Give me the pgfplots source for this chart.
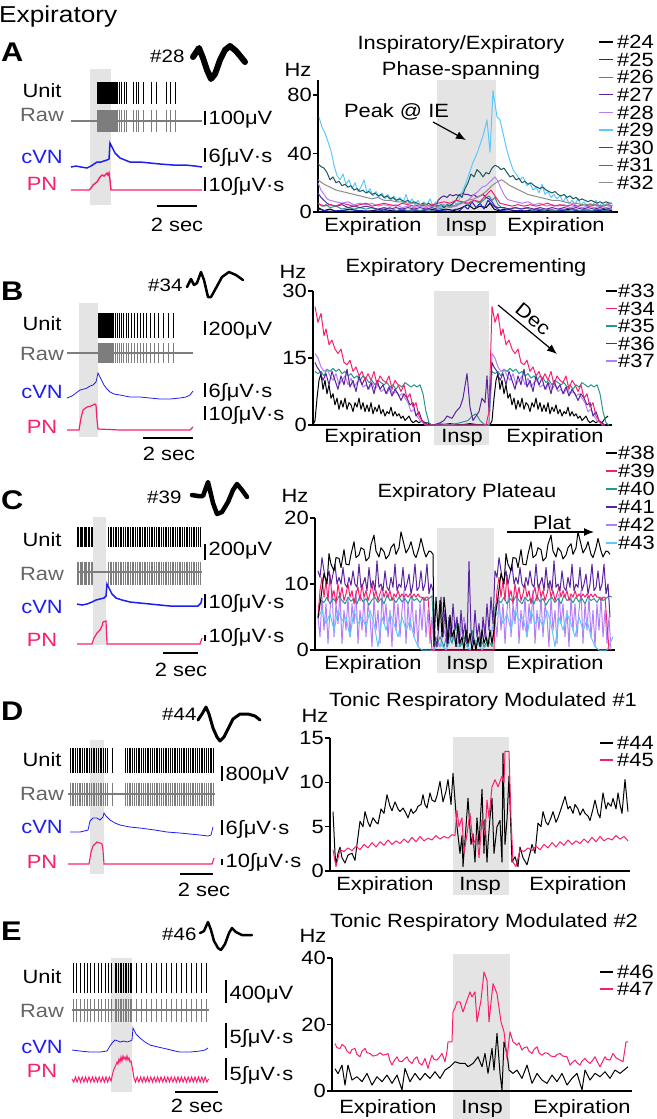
\documentclass[border=0pt]{standalone}
\usepackage{fontspec}
\setmainfont{Liberation Sans}[FakeStretch=1.14]
\usepackage{pgfplots}
\pgfplotsset{compat=1.18}
\usetikzlibrary{arrows.meta}
\definecolor{cpink}{RGB}{250,30,110}
\definecolor{cblue}{RGB}{30,30,240}
\definecolor{craw}{RGB}{125,125,125}
\definecolor{crawl}{RGB}{100,100,100}
\definecolor{cteal}{RGB}{40,150,140}
\definecolor{cdteal}{RGB}{25,90,95}
\definecolor{cpurp}{RGB}{90,35,160}
\definecolor{clav}{RGB}{180,125,250}
\definecolor{clblue}{RGB}{95,200,250}
\definecolor{cdblue}{RGB}{30,30,200}
\definecolor{cgray}{RGB}{140,140,140}
\definecolor{cshade}{RGB}{228,228,228}
\newcommand{\fs}{\fontsize{19.2pt}{22pt}\selectfont}
\newcommand{\fl}{\fontsize{23pt}{26pt}\selectfont}
\newcommand{\fb}{\fontsize{27pt}{30pt}\selectfont\bfseries}
\newcommand{\fn}{\fontsize{18pt}{21pt}\selectfont}
\pgfplotsset{
  spk/.style 2 args={only marks, mark=|, mark size=#1, color=#2, mark options={line width=0.6pt, solid}},
  rplot/.style={scale only axis, width=300pt, anchor=south west,
    axis x line*=bottom, axis y line*=left, axis line style={line width=1.2pt, -},
    xtick=\empty, xmajorticks=false, tick align=outside, major tick length=5pt,
    every tick/.style={black, line width=1.2pt},
    yticklabel style={font=\fs, inner sep=1pt},
    /pgf/number format/assume math mode=true, clip=false,
    every axis plot/.append style={line width=1pt, line join=round}}
}
\begin{document}
\begin{tikzpicture}
\useasboundingbox (0,0) rectangle (656pt,-1119pt);
\begin{scope}[x=1pt,y=-1pt]
\fill[cshade] (437,80) rectangle (496,236);
\fill[cshade] (434,291) rectangle (489,445);
\fill[cshade] (437,528) rectangle (494,673);
\fill[cshade] (453,737) rectangle (509,895);
\fill[cshade] (453,954) rectangle (510,1119);
\end{scope}
% ---------------- left traces (pixel space) ----------------
\begin{axis}[at={(0pt,0pt)}, anchor=north west, scale only axis, width=656pt, height=1119pt,
  xmin=0, xmax=656, ymin=0, ymax=1119, y dir=reverse, hide axis, clip=false]
\fill[cshade] (axis cs:90,69) rectangle (axis cs:111,205);
\fill[cshade] (axis cs:79,303) rectangle (axis cs:98,437);
\fill[cshade] (axis cs:93,517) rectangle (axis cs:106,645);
\fill[cshade] (axis cs:90,740) rectangle (axis cs:104,874);
\fill[cshade] (axis cs:111,958) rectangle (axis cs:132,1092);
% waveforms
\addplot[black, line width=6pt, line cap=round, line join=round] coordinates {(193,57)(199,48)(203,58)(207,70)(211,79)(215,74)(220,60)(225,50)(230,46)(236,51)(241,57)(245,62)};
\addplot[black, line width=2.5pt, line cap=round, line join=round] coordinates {(187,287)(191,279)(194,285)(197,283)(201,272)(204,280)(208,297)(211,297)(216,288)(222,277)(229,272)(236,275)(243,280)};
\addplot[black, line width=4.5pt, line cap=round, line join=round] coordinates {(192,495)(198,496)(203,496)(208,482)(213,503)(217,514)(222,512)(228,502)(233,490)(237,484)(242,490)(247,497)};
\addplot[black, line width=3pt, line cap=round, line join=round] coordinates {(198,720)(202,714)(206,707)(209,714)(213,728)(217,737)(220,741)(224,737)(228,729)(233,719)(240,714)(248,714)(255,716)(260,720)};
\addplot[black, line width=2.5pt, line cap=round, line join=round] coordinates {(200,933)(204,931)(208,922)(211,930)(214,941)(218,948)(221,950)(225,944)(229,933)(232,928)(236,932)(242,935)(252,935)};
% ---- A ----
\addplot[spk={11}{black}] coordinates {(97,93)(98.3,93)(99.3,93)(100.3,93)(101.3,93)(102.2,93)(103,93)(103.8,93)(104.6,93)(105.4,93)(106.2,93)(107,93)(107.8,93)(108.6,93)(109.4,93)(110.2,93)(111,93)(111.8,93)(112.6,93)(113.4,93)(114.2,93)(115,93)(116,93)(117,93)(119,93)(121.7,93)(124.3,93)(126.7,93)(133.3,93)(136,93)(138.3,93)(143.3,93)(151.7,93)(156.7,93)(166.7,93)(170,93)(175,93)};
\addplot[craw, line width=2.8pt] coordinates {(71,121)(202,121)};
\addplot[spk={11}{craw}] coordinates {(97,121)(98.3,121)(99.3,121)(100.3,121)(101.3,121)(102.2,121)(103,121)(103.8,121)(104.6,121)(105.4,121)(106.2,121)(107,121)(107.8,121)(108.6,121)(109.4,121)(110.2,121)(111,121)(111.8,121)(112.6,121)(113.4,121)(114.2,121)(115,121)(116,121)(117,121)(119,121)(121.7,121)(124.3,121)(126.7,121)(133.3,121)(136,121)(138.3,121)(143.3,121)(151.7,121)(156.7,121)(166.7,121)(170,121)(175,121)};
\addplot[cblue, line width=1.5pt] coordinates {(71,167)(76,166)(81,167)(87,168)(91,166)(94,164)(97,162)(101,162)(104,161)(107,160)(109,159)(110,143)(112,147)(115,153)(118,156)(120,158)(125,160)(130,162)(140,162)(150,163)(160,164)(173,165)(185,165)(195,166)(202,167)};
\addplot[cpink, line width=1.4pt] coordinates {(71,190)(89,190)(91,188)(93,185)(97,182)(100,177)(102,175)(104,176)(107,173)(108,175)(109,173)(110,180)(111,190)(130,190)(160,190)(202,190)};
% ---- B ----
\addplot[spk={12.5}{black}] coordinates {(98,325.5)(99,325.5)(100,325.5)(101,325.5)(102,325.5)(103,325.5)(104,325.5)(105,325.5)(106,325.5)(107,325.5)(108,325.5)(109,325.5)(110,325.5)(111,325.5)(112,325.5)(113.5,325.5)(115,325.5)(117,325.5)(119,325.5)(121,325.5)(123.5,325.5)(126,325.5)(128.5,325.5)(131,325.5)(134,325.5)(137,325.5)(140,325.5)(143,325.5)(146.5,325.5)(150,325.5)(154,325.5)(158,325.5)(163,325.5)(168,325.5)(173,325.5)};
\addplot[craw, line width=2.5pt] coordinates {(67,353)(193,353)};
\addplot[spk={10}{craw}] coordinates {(98,353)(99,353)(100,353)(101,353)(102,353)(103,353)(104,353)(105,353)(106,353)(107,353)(108,353)(109,353)(110,353)(111,353)(112,353)(113.5,353)(115,353)(117,353)(119,353)(121,353)(123.5,353)(126,353)(128.5,353)(131,353)(134,353)(137,353)(140,353)(143,353)(146.5,353)(150,353)(154,353)(158,353)(163,353)(168,353)(173,353)};
\addplot[cblue, line width=0.8pt] coordinates {(67,398)(72,396)(76,393)(80,390)(84,389)(87,388)(90,386)(93,385)(96,382)(98,373)(101,379)(104,385)(107,389)(110,392)(114,394)(120,395)(130,397)(140,397)(150,398)(160,399)(170,399)(180,398)(186,397)(190,395)(193,391)};
\addplot[cpink, line width=1.2pt] coordinates {(67,430)(79,430)(81,418)(83,410)(87,407)(91,406)(95,404)(96,405)(97,420)(98,429)(120,430)(150,430)(180,430)(190,430)(193,427)};
% ---- C ----
\addplot[spk={10}{black}] coordinates {(77,537)(78.5,537)(80,537)(81,537)(82.5,537)(84,537)(85,537)(86.5,537)(88,537)(89.5,537)(91,537)(92.5,537)(108,537)(110,537)(111.5,537)(113,537)(115,537)(116.5,537)(118,537)(120,537)(121.5,537)(123,537)(125,537)(127,537)(128.5,537)(130,537)(132,537)(133.5,537)(135,537)(137,537)(139,537)(140.5,537)(142,537)(144,537)(145.5,537)(147,537)(149,537)(151,537)(152.5,537)(154,537)(156,537)(158,537)(159.5,537)(161,537)(163,537)(165,537)(166.5,537)(168,537)(170,537)(172,537)(173.5,537)(175,537)(177,537)(179,537)(180.5,537)(182,537)(184,537)(186,537)(187.5,537)(189,537)(191,537)(193,537)(194.5,537)(196,537)(198,537)(200,537)};
\addplot[craw, line width=2.5pt] coordinates {(77,572)(202,572)};
\addplot[spk={11.5}{craw}] coordinates {(77,573)(78.5,573)(80,573)(81,573)(82.5,573)(84,573)(85,573)(86.5,573)(88,573)(89.5,573)(91,573)(92.5,573)(108,573)(110,573)(111.5,573)(113,573)(115,573)(116.5,573)(118,573)(120,573)(121.5,573)(123,573)(125,573)(127,573)(128.5,573)(130,573)(132,573)(133.5,573)(135,573)(137,573)(139,573)(140.5,573)(142,573)(144,573)(145.5,573)(147,573)(149,573)(151,573)(152.5,573)(154,573)(156,573)(158,573)(159.5,573)(161,573)(163,573)(165,573)(166.5,573)(168,573)(170,573)(172,573)(173.5,573)(175,573)(177,573)(179,573)(180.5,573)(182,573)(184,573)(186,573)(187.5,573)(189,573)(191,573)(193,573)(194.5,573)(196,573)(198,573)(200,573)};
\addplot[cblue, line width=1.5pt] coordinates {(77,604)(82,605)(87,604)(92,602)(96,600)(100,599)(104,598)(106,596)(107,584)(109,588)(112,594)(116,598)(122,600)(130,602)(140,603)(150,604)(160,605)(170,606)(180,606)(190,606)(198,606)(201,603)(202,598)};
\addplot[cpink, line width=1.2pt] coordinates {(77,644)(92,644)(94,638)(97,633)(100,630)(102,626)(103,622)(106,621)(107,644)(120,644)(150,644)(180,644)(200,644)(202,638)};
% ---- D ----
\addplot[spk={12.5}{black}] coordinates {(70,760.5)(72,760.5)(73.5,760.5)(75,760.5)(77,760.5)(79,760.5)(80.5,760.5)(82,760.5)(84,760.5)(86,760.5)(87.5,760.5)(89,760.5)(91,760.5)(93,760.5)(94.5,760.5)(96,760.5)(98,760.5)(100,760.5)(101.5,760.5)(103,760.5)(105,760.5)(107,760.5)(112,760.5)(125,760.5)(127,760.5)(129,760.5)(130.5,760.5)(132,760.5)(134,760.5)(136,760.5)(138,760.5)(139.5,760.5)(141,760.5)(143,760.5)(145,760.5)(147,760.5)(148.5,760.5)(150,760.5)(152,760.5)(154,760.5)(156,760.5)(157.5,760.5)(159,760.5)(161,760.5)(163,760.5)(165,760.5)(166.5,760.5)(168,760.5)(170,760.5)(172,760.5)(174,760.5)(175.5,760.5)(177,760.5)(179,760.5)(181,760.5)(183,760.5)(184.5,760.5)(186,760.5)(188,760.5)(190,760.5)(192,760.5)(193.5,760.5)(195,760.5)(197,760.5)(199,760.5)(201,760.5)(202.5,760.5)(204,760.5)(206,760.5)(208,760.5)(210,760.5)(211.5,760.5)(213,760.5)};
\addplot[craw, line width=2.5pt] coordinates {(68,794)(215,794)};
\addplot[spk={11.5}{craw}] coordinates {(70,794)(72,794)(73.5,794)(75,794)(77,794)(79,794)(80.5,794)(82,794)(84,794)(86,794)(87.5,794)(89,794)(91,794)(93,794)(94.5,794)(96,794)(98,794)(100,794)(101.5,794)(103,794)(105,794)(107,794)(112,794)(125,794)(127,794)(129,794)(130.5,794)(132,794)(134,794)(136,794)(138,794)(139.5,794)(141,794)(143,794)(145,794)(147,794)(148.5,794)(150,794)(152,794)(154,794)(156,794)(157.5,794)(159,794)(161,794)(163,794)(165,794)(166.5,794)(168,794)(170,794)(172,794)(174,794)(175.5,794)(177,794)(179,794)(181,794)(183,794)(184.5,794)(186,794)(188,794)(190,794)(192,794)(193.5,794)(195,794)(197,794)(199,794)(201,794)(202.5,794)(204,794)(206,794)(208,794)(210,794)(211.5,794)(213,794)};
\addplot[cblue, line width=0.8pt] coordinates {(70,832)(80,832)(88,830)(90,821)(93,818)(97,818)(100,820)(103,817)(104,813)(106,816)(110,820)(115,823)(120,825)(130,827)(140,828)(155,830)(167,832)(180,833)(190,834)(200,835)(208,836)(211,835)(213,827)};
\addplot[cpink, line width=1.1pt] coordinates {(68,864)(89,864)(91,852)(93,846)(97,842)(100,843)(102,844)(103,850)(104,864)(130,864)(170,864)(212,864)(214,858)};
% ---- E ----
\addplot[spk={15}{black}] coordinates {(73.3,978)(76.7,978)(80,978)(84,978)(87.3,978)(90.7,978)(94.3,978)(98.3,978)(101.7,978)(105,978)(108.3,978)(111.7,978)(115,978)(116.7,978)(118.3,978)(120,978)(121.7,978)(123.3,978)(125,978)(126.7,978)(128.3,978)(130,978)(131.7,978)(136.7,978)(141.7,978)(146.7,978)(151.7,978)(156.7,978)(161.7,978)(166.7,978)(171.7,978)(176.7,978)(181.7,978)(186.7,978)(191.7,978)(196.7,978)(201.7,978)(206.7,978)};
\addplot[craw, line width=2.5pt] coordinates {(72,1010)(209,1010)};
\addplot[spk={11.5}{craw}] coordinates {(73.3,1010)(76.7,1010)(80,1010)(84,1010)(87.3,1010)(90.7,1010)(94.3,1010)(98.3,1010)(101.7,1010)(105,1010)(108.3,1010)(111.7,1010)(115,1010)(116.7,1010)(118.3,1010)(120,1010)(121.7,1010)(123.3,1010)(125,1010)(126.7,1010)(128.3,1010)(130,1010)(131.7,1010)(136.7,1010)(141.7,1010)(146.7,1010)(151.7,1010)(156.7,1010)(161.7,1010)(166.7,1010)(171.7,1010)(176.7,1010)(181.7,1010)(186.7,1010)(191.7,1010)(196.7,1010)(201.7,1010)(206.7,1010)};
\addplot[cblue, line width=0.8pt] coordinates {(72,1050)(80,1051)(90,1052)(100,1052)(107,1051)(110,1046)(112,1043)(115,1040)(118,1041)(120,1042)(124,1041)(127,1042)(130,1041)(132,1040)(133,1028)(136,1034)(140,1038)(145,1042)(150,1045)(158,1047)(167,1049)(175,1051)(180,1052)(190,1052)(200,1051)(205,1050)(208,1048)};
\addplot[cpink, line width=1pt] coordinates {(72,1079)(73.7,1082)(75.4,1077)(77.1,1082)(78.8,1077)(80.5,1082)(82.2,1077)(83.9,1082)(85.6,1077)(87.3,1082)(89,1077)(90.7,1082)(92.4,1077)(94.1,1082)(95.8,1077)(97.5,1082)(99.2,1077)(100.9,1082)(102.6,1077)(104.3,1082)(106,1077)(107.7,1082)(109.4,1077)(111.1,1081)(112.5,1074)(114,1069)(115.5,1066)(117,1062)(118,1064)(119,1059)(120,1062)(121,1057)(122,1061)(123,1056)(124,1059)(125,1057)(126,1060)(127,1056)(128,1060)(129,1058)(130,1062)(131,1061)(132,1066)(133,1072)(134,1078)(135.5,1082)(137.2,1077)(138.9,1082)(140.6,1077)(142.3,1082)(144,1077)(145.7,1082)(147.4,1077)(149.1,1082)(150.8,1077)(152.5,1082)(154.2,1077)(155.9,1082)(157.6,1077)(159.3,1082)(161,1077)(162.7,1082)(164.4,1077)(166.1,1082)(167.8,1077)(169.5,1082)(171.2,1077)(172.9,1082)(174.6,1077)(176.3,1082)(178,1077)(179.7,1082)(181.4,1077)(183.1,1082)(184.8,1077)(186.5,1082)(188.2,1077)(189.9,1082)(191.6,1077)(193.3,1082)(195,1077)(196.7,1082)(198.4,1077)(200.1,1082)(201.8,1077)(203.5,1082)(205.2,1077)(206.9,1082)(208.6,1079)};
\end{axis}
% ---------------- A right ----------------
\begin{axis}[rplot, at={(318pt,-212pt)}, height=132pt, xmin=318, xmax=618, ymin=0, ymax=90.3, ytick={0,40,80}]
\addplot[black] coordinates {(318,3)(324,1)(330,2)(336,0.5)(342,1)(350,2)(358,1)(366,0.5)(374,1)(382,2)(390,1)(398,0.5)(406,1)(414,0.5)(422,1)(430,2)(438,1)(446,2)(454,1)(462,3)(468,5)(474,2)(480,4)(486,3)(490,6)(494,2)(498,1)(506,2)(514,1)(522,0.5)(530,1)(538,2)(546,1)(554,0.5)(562,1)(570,2)(578,1)(586,0.5)(594,1)(602,2)(612,1)};
\addplot[cdblue] coordinates {(318,2)(324,1)(330,0.5)(340,1)(350,0.5)(360,1)(370,0.5)(380,1)(390,0.5)(400,1)(410,0.5)(420,1)(430,0.5)(440,1)(450,0.5)(456,2)(460,1)(464,4)(468,2)(472,7)(476,3)(480,6)(484,2)(488,8)(492,5)(496,3)(500,1)(510,0.5)(520,1)(530,0.5)(540,1)(550,0.5)(560,1)(570,0.5)(580,1)(590,0.5)(600,1)(612,0.5)};
\addplot[cteal] coordinates {(318,6)(322,4)(326,5)(330,3)(336,4)(342,2)(348,3)(354,2)(360,3)(366,2)(372,3)(378,1)(384,2)(390,3)(396,1)(402,2)(408,1)(414,2)(420,1)(426,2)(432,1)(438,2)(444,3)(450,5)(456,4)(462,7)(468,5)(474,8)(480,6)(485,9)(489,11)(492,8)(495,10)(498,5)(502,3)(508,2)(514,3)(520,2)(526,3)(532,1)(538,2)(544,1)(550,2)(556,1)(562,2)(568,1)(574,2)(580,1)(586,2)(592,1)(598,2)(604,1)(612,2)};
\addplot[cpurp] coordinates {(318,13)(321,10)(324,8)(327,6)(330,5)(336,4)(342,5)(348,3)(354,4)(360,3)(366,4)(372,3)(378,2)(384,3)(390,2)(396,3)(402,2)(408,3)(414,2)(420,3)(426,2)(432,3)(436,2)(438,8)(441,10)(444,11)(447,10)(450,12)(453,11)(456,12)(459,11)(462,13)(465,12)(468,12)(471,11)(474,12)(477,10)(480,11)(483,12)(486,10)(489,9)(492,7)(495,4)(498,3)(504,3)(510,2)(516,3)(522,2)(528,3)(534,2)(540,3)(546,2)(552,3)(558,2)(564,3)(570,2)(576,3)(582,2)(588,3)(594,2)(600,3)(606,2)(612,3)};
\addplot[clav] coordinates {(318,20)(321,15)(324,12)(327,9)(330,8)(336,7)(342,6)(348,7)(354,5)(360,6)(366,5)(372,6)(378,4)(384,5)(390,4)(396,5)(402,3)(408,4)(414,3)(420,4)(426,3)(432,4)(438,3)(444,4)(450,3)(456,4)(462,6)(468,8)(474,12)(478,14)(482,17)(486,18)(489,20)(492,22)(495,24)(498,21)(501,16)(504,12)(507,9)(510,8)(516,7)(522,6)(528,7)(534,5)(540,6)(546,4)(552,5)(558,4)(564,5)(570,3)(576,4)(582,3)(588,4)(594,3)(600,4)(606,3)(612,4)};
\addplot[clblue] coordinates {(319,65)(322,58)(325,54)(328,48)(331,42)(334,32)(337,25)(340,22)(343,26)(346,19)(349,22)(352,16)(355,20)(358,14)(361,17)(364,22)(367,13)(370,16)(373,11)(376,14)(379,10)(382,13)(385,9)(388,12)(391,8)(394,11)(397,7)(400,10)(403,6)(406,12)(409,6)(412,9)(415,5)(418,8)(421,4)(424,7)(427,5)(430,9)(433,4)(436,7)(439,3)(442,5)(445,3)(448,6)(451,4)(454,7)(457,5)(460,10)(463,15)(466,20)(470,28)(473,34)(477,40)(480,46)(483,52)(487,63)(490,41)(493,83)(497,65)(500,63)(503,54)(507,42)(510,35)(513,29)(517,25)(520,22)(523,24)(527,18)(530,20)(533,15)(536,17)(539,13)(542,19)(545,12)(548,14)(551,10)(554,12)(557,9)(560,11)(563,7)(566,10)(569,6)(572,8)(575,5)(578,9)(581,5)(584,7)(587,4)(590,6)(593,5)(596,8)(599,4)(602,6)(605,4)(608,7)(611,4)(613,5)};
\addplot[cdteal] coordinates {(318,33)(321,31)(324,30)(327,27)(330,22)(333,24)(336,20)(339,21)(342,18)(345,19)(348,17)(351,18)(354,15)(357,16)(360,14)(363,15)(366,13)(369,14)(372,12)(375,13)(378,11)(381,12)(384,10)(387,11)(390,9)(393,10)(396,8)(399,9)(402,8)(405,7)(408,8)(411,6)(414,7)(417,6)(420,5)(423,6)(426,5)(429,6)(432,4)(435,5)(438,4)(441,5)(444,3)(447,5)(450,4)(453,6)(456,8)(459,12)(462,10)(465,16)(468,20)(471,26)(474,24)(477,29)(480,27)(483,24)(486,27)(489,26)(492,30)(495,32)(498,31)(501,29)(504,30)(507,27)(510,24)(513,25)(516,22)(519,23)(522,20)(525,21)(528,19)(531,20)(534,18)(537,17)(540,16)(543,17)(546,15)(549,14)(552,13)(555,14)(558,12)(561,11)(564,12)(567,10)(570,11)(573,9)(576,10)(579,8)(582,9)(585,8)(588,7)(591,8)(594,7)(597,6)(600,7)(603,6)(606,7)(609,6)(612,6)};
\addplot[cpink] coordinates {(318,6)(324,4)(330,5)(336,4)(342,6)(348,5)(354,4)(360,5)(366,6)(372,4)(378,5)(384,6)(390,5)(396,4)(402,6)(408,5)(414,4)(420,5)(426,4)(432,5)(438,6)(444,7)(450,6)(456,8)(462,7)(468,6)(474,8)(480,7)(484,10)(488,13)(491,15)(494,12)(497,9)(500,6)(506,5)(512,4)(518,5)(524,4)(530,5)(536,4)(542,5)(548,6)(554,4)(560,5)(566,4)(572,5)(578,4)(584,5)(590,4)(596,5)(602,4)(608,5)(612,4)};
\addplot[cgray] coordinates {(318,22)(324,19)(330,17)(336,15)(342,14)(348,13)(354,12)(360,11)(366,10)(372,9)(378,10)(384,8)(390,8)(396,7)(402,7)(408,6)(414,6)(420,5)(426,5)(432,4)(438,4)(444,5)(450,3)(456,5)(462,6)(468,8)(474,9)(480,11)(486,14)(492,18)(498,21)(502,22)(506,20)(510,18)(516,16)(522,14)(528,12)(534,11)(540,10)(546,9)(552,8)(558,8)(564,7)(570,6)(576,6)(582,5)(588,5)(594,5)(600,4)(606,5)(612,4)};
\end{axis}
% ---------------- B right ----------------
\begin{axis}[rplot, at={(313pt,-425pt)}, height=134pt, width=299pt, xmin=313, xmax=612, ymin=0, ymax=30, ytick={0,15,30}]
\addplot[black] coordinates {(313,0)(315,1)(317,6)(319,10)(321,11.5)(323,8)(325,10)(327,7)(329,9)(331,6)(333,7)(335,4.5)(337,6)(339,3.5)(341,5.5)(343,4)(345,6)(347,3.5)(349,5)(351,4.5)(353,3)(355,5)(357,4)(359,6)(361,3.5)(363,5)(365,3)(367,4.5)(369,3)(371,5)(373,2.5)(375,4)(377,3)(379,4.5)(381,2.5)(383,3.5)(385,2)(387,3)(389,2.5)(391,4)(393,2)(395,3)(397,2)(399,2.5)(401,1.5)(403,2)(405,1)(407,1.5)(409,2)(411,1)(413,0.5)(416,1)(419,0.5)(422,1)(425,0.5)(428,0.5)(431,0)(440,0)(450,0.3)(460,0)(470,0.3)(480,0)(488,0)(490,0)(492,1)(494,6)(496,10)(498,11.5)(500,8)(502,10)(504,7)(506,9)(508,6)(510,7)(512,4.5)(514,6)(516,3.5)(518,5.5)(520,4)(522,6)(524,3.5)(526,5)(528,4.5)(530,3)(532,5)(534,4)(536,6)(538,3.5)(540,5)(542,3)(544,4.5)(546,3)(548,5)(550,2.5)(552,4)(554,3)(556,4.5)(558,2.5)(560,3.5)(562,2)(564,3)(566,2.5)(568,4)(570,2)(572,3)(574,2)(576,2.5)(578,1.5)(580,2)(582,1)(584,1.5)(586,2)(588,1)(590,0.5)(593,1)(596,0.5)(599,1)(602,0.5)(605,1.5)(608,2)};
\addplot[cteal] coordinates {(315,12)(318,11.5)(321,12)(324,11)(327,12.5)(330,12)(333,12.7)(336,12)(339,12.5)(342,11.5)(345,12)(348,11)(351,11.5)(354,10.5)(357,11)(360,10)(363,11)(366,10.5)(369,9.5)(372,10)(375,9)(378,10)(381,9.5)(384,9)(387,9.5)(390,8.5)(393,9)(396,8)(399,9)(402,8.5)(405,9.5)(408,9)(411,8.5)(414,9)(417,8.5)(420,9)(423,7)(426,3)(429,0.5)(432,0)(440,0.3)(450,0)(460,0.5)(468,1)(472,2)(476,2.5)(480,1)(485,0)(489,0)(492,12)(495,11.5)(498,12)(501,11)(504,12.5)(507,12)(510,12.7)(513,12)(516,12.5)(519,11.5)(522,12)(525,11)(528,11.5)(531,10.5)(534,11)(537,10)(540,11)(543,10.5)(546,9.5)(549,10)(552,9)(555,10)(558,9.5)(561,9)(564,9.5)(567,8.5)(570,9)(573,8)(576,9)(579,8.5)(582,9.5)(585,9)(588,8.5)(591,9)(594,8.5)(597,9)(600,7)(603,3)(606,0.5)(609,0)};
\addplot[clav] coordinates {(315,16)(318,15)(321,13)(324,12)(327,12.5)(330,11)(333,10)(336,11.5)(339,9)(342,10)(345,11)(348,9)(351,10.5)(354,8.5)(357,9.5)(360,10)(363,8.5)(366,9)(369,8)(372,9.5)(375,8)(378,9)(381,7.5)(384,8)(387,7)(390,8.5)(393,7)(396,7.5)(399,6.5)(402,7)(405,6)(408,5)(411,3)(414,3.5)(417,2)(420,1)(423,0.5)(426,0)(440,0)(460,0)(480,0)(489,0)(492,16)(495,15)(498,13)(501,12)(504,12.5)(507,11)(510,10)(513,11.5)(516,9)(519,10)(522,11)(525,9)(528,10.5)(531,8.5)(534,9.5)(537,10)(540,8.5)(543,9)(546,8)(549,9.5)(552,8)(555,9)(558,7.5)(561,8)(564,7)(567,8.5)(570,7)(573,7.5)(576,6.5)(579,7)(582,6)(585,5)(588,3)(591,3.5)(594,2)(597,1)(600,0.5)(603,0)};
\addplot[cpurp] coordinates {(315,14)(317,13)(320,12)(323,10)(326,11.5)(329,9)(332,12)(335,10)(338,8)(341,11)(344,9)(347,12.5)(350,8.5)(353,10)(356,7.5)(359,11)(362,9)(365,10.5)(368,8)(371,9.5)(374,7)(377,10)(380,8)(383,9)(386,7)(389,8.5)(392,6.5)(395,8)(398,7)(401,5.5)(404,7)(407,6)(410,4.5)(413,5)(416,2)(419,3)(422,1)(425,0.5)(428,0)(434,0)(440,0.5)(444,1)(447,2)(452,1.5)(456,3)(460,4)(463,6)(467,11.5)(470,4)(473,1)(476,2)(479,3)(482,6)(485,5)(487,11)(489,3)(492,14)(494,13)(497,12)(500,10)(503,11.5)(506,9)(509,12)(512,10)(515,8)(518,11)(521,9)(524,12.5)(527,8.5)(530,10)(533,7.5)(536,11)(539,9)(542,10.5)(545,8)(548,9.5)(551,7)(554,10)(557,8)(560,9)(563,7)(566,8.5)(569,6.5)(572,8)(575,7)(578,5.5)(581,7)(584,6)(587,4.5)(590,5)(593,2)(596,3)(599,1)(602,0.5)(605,0)};
\addplot[cpink] coordinates {(315,26.5)(318,23)(321,25)(324,20)(326,21.5)(329,18)(332,19)(335,17)(338,16)(341,17)(344,14)(347,13.5)(350,14.5)(353,12)(356,13)(359,11)(362,12)(365,10)(368,11.5)(371,10)(374,12)(377,9)(380,11)(383,10)(386,9.5)(389,11)(392,8)(395,10)(398,9)(401,7.5)(404,9)(407,6)(410,7)(413,4)(416,5)(419,2)(422,1)(425,0)(430,0)(440,0)(450,0)(460,0)(470,0)(480,0)(486,0)(489,3)(492,26.5)(495,23)(498,25)(501,20)(503,21.5)(506,18)(509,19)(512,17)(515,16)(518,17)(521,14)(524,13.5)(527,14.5)(530,12)(533,13)(536,11)(539,12)(542,10)(545,11.5)(548,10)(551,12)(554,9)(557,11)(560,10)(563,9.5)(566,11)(569,8)(572,10)(575,9)(578,7.5)(581,9)(584,6)(587,7)(590,4)(593,5)(596,2)(599,1)(602,0)(605,0)};
\end{axis}
% ---------------- C right ----------------
\begin{axis}[rplot, at={(315pt,-650pt)}, height=132pt, xmin=315, xmax=615, ymin=0, ymax=20, ytick={0,10,20}]
\addplot[clav] coordinates {(318,5)(320,2)(322,8)(324,3)(326,7)(328,1)(330,6)(332,9)(334,2)(336,7)(338,4)(340,8.5)(342,1)(344,6)(346,3)(348,8)(350,2)(352,7)(354,4)(356,9)(358,1)(360,6)(362,3)(364,8)(366,2)(368,7)(370,5)(372,0.5)(374,8)(376,3)(378,6)(380,1)(382,8.5)(384,4)(386,7)(388,2)(390,6)(392,0.5)(394,8)(396,3)(398,7)(400,2)(402,6)(404,9)(406,1)(408,7)(410,3)(412,8)(414,2)(416,6)(418,0.5)(420,7)(422,3)(424,8)(426,2)(428,6)(430,1)(432,5)(434,0)(436,2)(440,0.5)(444,3)(448,1)(452,4)(456,0.5)(460,2)(464,5)(468,1)(472,3)(476,0.5)(480,2)(484,4)(488,1)(492,3)(495,5)(497,2)(499,8)(501,3)(503,7)(505,1)(507,6)(509,9)(511,2)(513,7)(515,4)(517,8.5)(519,1)(521,6)(523,3)(525,8)(527,2)(529,7)(531,4)(533,9)(535,1)(537,6)(539,3)(541,8)(543,2)(545,7)(547,5)(549,0.5)(551,8)(553,3)(555,6)(557,1)(559,8.5)(561,4)(563,7)(565,2)(567,6)(569,0.5)(571,8)(573,3)(575,7)(577,2)(579,6)(581,9)(583,1)(585,7)(587,3)(589,8)(591,2)(593,6)(595,0.5)(597,7)(599,3)(601,8)(603,2)(605,6)(607,1)(609,5)(611,0)};
\addplot[clblue] coordinates {(318,5)(322,6)(326,4)(330,5.5)(334,3)(338,6)(342,4.5)(346,5)(350,2)(354,6)(358,4)(362,5)(366,3.5)(370,6)(374,4)(378,0.5)(382,5)(386,3)(390,5.5)(394,4)(398,2)(402,5)(406,3)(410,4.5)(414,2)(418,0.5)(422,0)(430,0)(434,0)(440,1)(446,0)(452,2)(458,0.5)(464,1)(470,0)(476,1.5)(482,0)(488,1)(494,4)(495,5)(499,6)(503,4)(507,5.5)(511,3)(515,6)(519,4.5)(523,5)(527,2)(531,6)(535,4)(539,5)(543,3.5)(547,6)(551,4)(555,0.5)(559,5)(563,3)(567,5.5)(571,4)(575,2)(579,5)(583,3)(587,4.5)(591,2)(595,0.5)(599,0)(607,0)(610,1)(613,2)};
\addplot[cteal] coordinates {(318,6.5)(321,7.5)(324,7.2)(327,8)(330,7)(333,7.8)(336,7.3)(339,8.2)(342,7.5)(345,7)(348,8)(351,7.4)(354,7.8)(357,7)(360,8.2)(363,7.3)(366,7.8)(369,6.8)(372,7.6)(375,8)(378,7.2)(381,7.8)(384,7)(387,8.3)(390,7.5)(393,7.8)(396,7.2)(399,8)(402,7.3)(405,7.8)(408,7)(411,8.1)(414,7.5)(417,7.8)(420,7.2)(423,8)(426,7.5)(429,7.8)(432,8.2)(434,2)(436,0.5)(440,2)(444,0.5)(448,3)(452,1)(456,4)(460,0.5)(464,2)(468,0.5)(472,3)(476,0.5)(480,2)(484,0.5)(488,1.5)(492,0.5)(494,3)(495,6.5)(498,7.5)(501,7.2)(504,8)(507,7)(510,7.8)(513,7.3)(516,8.2)(519,7.5)(522,7)(525,8)(528,7.4)(531,7.8)(534,7)(537,8.2)(540,7.3)(543,7.8)(546,6.8)(549,7.6)(552,8)(555,7.2)(558,7.8)(561,7)(564,8.3)(567,7.5)(570,7.8)(573,7.2)(576,8)(579,7.3)(582,7.8)(585,7)(588,8.1)(591,7.5)(594,7.8)(597,7.2)(600,8)(603,7.5)(606,7.8)(609,8.2)(612,8)};
\addplot[cpink] coordinates {(318,5)(320,9)(322,11)(324,8)(326,10.5)(328,7.5)(330,11.4)(332,8)(334,9)(336,7)(338,10)(340,8)(342,9.5)(344,7.5)(346,8.5)(348,10)(350,8)(352,9)(354,7)(356,8.5)(358,9.5)(360,7.5)(362,10)(364,8)(366,9)(368,7.5)(370,8.5)(372,10)(374,8)(376,9)(378,7.5)(380,8.5)(382,9.5)(384,8)(386,9)(388,8)(390,9)(392,7.5)(394,8.5)(396,8)(398,9)(400,8)(402,8.5)(404,8)(406,8.5)(408,8)(410,8.5)(412,8)(414,8.5)(416,8)(418,8.5)(420,8)(422,8)(424,7.5)(426,8)(428,8)(430,4)(432,0)(440,0)(460,0)(480,0)(494,0)(495,5)(497,9)(499,11)(501,8)(503,10.5)(505,7.5)(507,11.4)(509,8)(511,9)(513,7)(515,10)(517,8)(519,9.5)(521,7.5)(523,8.5)(525,10)(527,8)(529,9)(531,7)(533,8.5)(535,9.5)(537,7.5)(539,10)(541,8)(543,9)(545,7.5)(547,8.5)(549,10)(551,8)(553,9)(555,7.5)(557,8.5)(559,9.5)(561,8)(563,9)(565,8)(567,9)(569,7.5)(571,8.5)(573,8)(575,9)(577,8)(579,8.5)(581,8)(583,8.5)(585,8)(587,8.5)(589,8)(591,8.5)(593,8)(595,8.5)(597,8)(599,8)(601,7.5)(603,8)(605,8)(607,4)(609,0)};
\addplot[cpurp] coordinates {(318,12)(320,11)(322,14)(325,11)(327,10.5)(329,12)(331,10)(333,11.5)(335,13)(337,10)(339,11)(341,10)(343,12.5)(345,10)(347,9.5)(349,11)(351,9.8)(353,12)(355,10)(357,9.5)(359,13)(361,9.5)(363,10)(365,11)(367,9)(369,12.5)(371,9.5)(373,10.5)(375,9)(377,13.5)(379,9.5)(381,10)(383,9)(385,12)(387,9.5)(389,9)(391,11)(393,9.5)(395,13)(397,9)(399,10)(401,9.5)(403,12.5)(405,9)(407,10)(409,11.5)(411,8.5)(413,10)(415,13)(417,9)(419,9.5)(421,12)(423,9)(425,10)(427,13)(429,8.5)(431,10)(433,9)(435,2)(437,0.5)(439,4)(441,8)(443,2)(445,6)(447,0.5)(449,5)(451,2)(453,7)(455,3)(457,5)(459,1)(461,6)(463,2)(465,4)(467,1)(469,13.4)(471,3)(473,1)(475,6)(477,2)(479,4)(481,0.5)(483,5)(485,2)(487,7)(489,3)(491,8)(493,4)(495,12)(497,11)(499,14)(502,11)(504,10.5)(506,12)(508,10)(510,11.5)(512,13)(514,10)(516,11)(518,10)(520,12.5)(522,10)(524,9.5)(526,11)(528,9.8)(530,12)(532,10)(534,9.5)(536,13)(538,9.5)(540,10)(542,11)(544,9)(546,12.5)(548,9.5)(550,10.5)(552,9)(554,13.5)(556,9.5)(558,10)(560,9)(562,12)(564,9.5)(566,9)(568,11)(570,9.5)(572,13)(574,9)(576,10)(578,9.5)(580,12.5)(582,9)(584,10)(586,11.5)(588,8.5)(590,10)(592,13)(594,9)(596,9.5)(598,12)(600,9)(602,10)(604,13)(606,8.5)(608,10)(610,5)};
\addplot[black] coordinates {(318,4.8)(321,8)(324,11.6)(327,10)(329,14.6)(331,13)(334,12)(336,14)(339,13.9)(341,12.5)(344,15.2)(346,13)(349,12.9)(351,14.5)(354,16.4)(356,14)(359,14.4)(361,15.5)(364,15.2)(366,13.5)(369,14)(371,16)(374,17.4)(376,15)(379,14.1)(381,15.5)(384,14.9)(386,13.8)(389,14.4)(391,15.5)(394,16.1)(396,14.5)(399,15.5)(401,17.9)(404,16)(406,14.7)(409,15.5)(411,16.4)(414,14.5)(416,14)(419,15.5)(421,16.9)(424,15)(426,14.1)(429,15)(431,14.9)(433,14.5)(434,0.5)(436,8)(438,3)(440,7.5)(442,2)(444,8)(446,5)(448,1)(450,5.3)(452,2)(454,3)(456,0.5)(458,4)(460,1)(462,2)(464,0)(466,3)(468,1)(470,2.5)(472,0)(474,1.5)(476,0)(478,2)(480,0.5)(482,3)(484,1)(486,2)(488,0.5)(490,3)(492,1)(494,3)(495,4.8)(498,8)(501,11.6)(504,10)(506,14.6)(508,13)(511,12)(513,14)(516,13.9)(518,12.5)(521,15.2)(523,13)(526,12.9)(528,14.5)(531,16.4)(533,14)(536,14.4)(538,15.5)(541,15.2)(543,13.5)(546,14)(548,16)(551,17.4)(553,15)(556,14.1)(558,15.5)(561,14.9)(563,13.8)(566,14.4)(568,15.5)(571,16.1)(573,14.5)(576,15.5)(578,17.9)(581,16)(583,14.7)(586,15.5)(588,16.4)(591,14.5)(593,14)(596,15.5)(598,16.9)(601,15)(603,14.1)(606,15)(608,14.9)(610,14.5)};
\end{axis}
% ---------------- D right ----------------
\begin{axis}[rplot, at={(330pt,-871pt)}, height=133pt, xmin=330, xmax=630, ymin=0, ymax=15, ytick={0,5,10,15}]
\addplot[black] coordinates {(333,6.7)(335,2)(336,0.7)(338,2)(340,2.7)(342,1.5)(345,0.9)(348,1.8)(352,2)(355,1.2)(357,3)(360,5.6)(363,5)(365,6.7)(368,5.5)(370,5)(373,6)(376,5.5)(378,5.3)(381,7)(384,6.5)(387,8.6)(390,7.3)(392,6.8)(395,7.8)(398,7)(400,6.7)(403,7.1)(406,6.5)(408,6)(411,7)(413,6.5)(416,6.8)(418,7.3)(421,7.5)(423,8.6)(425,7.5)(427,7.1)(430,8.8)(432,8)(435,7.8)(437,8.5)(440,10.1)(443,7.8)(446,9)(448,10.3)(451,7.5)(453,11)(455,8)(457,5)(460,2)(462,4)(463,0.5)(466,5)(468,8.2)(471,3)(473,4.2)(475,1)(477,6)(479,3)(482,9.2)(484,2)(485,5.8)(487,1)(488,3)(490,6)(492,8.2)(494,2)(497,5)(500,5.7)(502,1)(503,13.3)(505,3)(507,5.8)(509,10.7)(512,1)(515,1.6)(518,0.5)(520,2.7)(523,1.5)(527,0.7)(530,2)(532,3)(535,2)(538,5.4)(541,5)(543,6.7)(546,5.5)(548,5.2)(551,6)(553,6.7)(556,5.5)(558,6)(561,7)(565,8.4)(568,7)(570,7.3)(573,6.5)(575,7.5)(578,7)(580,6.3)(583,7)(585,6.5)(588,6.2)(590,5.7)(593,7)(595,8)(598,6.5)(600,6)(603,8.8)(606,7)(608,7.7)(611,7.3)(613,8.2)(616,7)(618,8.8)(620,7.5)(622,6.5)(625,10.3)(628,6.7)};
\addplot[cpink] coordinates {(333,2.4)(336,0.5)(340,2.4)(344,2.2)(348,2.6)(352,2.3)(356,2.8)(360,2.4)(364,3)(368,2.6)(372,3.2)(376,2.7)(380,3.3)(384,2.9)(388,3.5)(392,3)(396,3.4)(400,3.1)(404,3.6)(408,3.2)(412,3.8)(416,3.3)(420,3.9)(424,3.4)(428,3.7)(432,3.5)(436,4)(440,3.6)(444,3.9)(448,3.7)(452,4.1)(455,4)(457,6.8)(459,5)(462,6)(464,2)(467,4.2)(470,6.5)(473,3)(477,3.9)(479,1.5)(482,5.8)(485,4)(487,8)(489,6)(492,9.5)(495,10.3)(498,9.5)(502,10.7)(504,10)(505,13.5)(509,13.5)(511,6)(513,1)(516,0.5)(520,2.4)(524,2.2)(528,2.6)(532,2.3)(536,2.8)(540,2.4)(544,3)(548,2.6)(552,3.2)(556,2.7)(560,3.3)(564,2.9)(568,3.5)(572,3)(576,3.4)(580,3.1)(584,3.6)(588,3.2)(592,3.8)(596,3.3)(600,3.9)(604,3.4)(608,3.7)(612,3.5)(616,4)(620,3.6)(624,3.9)(628,3.4)};
\end{axis}
% ---------------- E right ----------------
\begin{axis}[rplot, at={(332pt,-1091pt)}, height=133pt, xmin=332, xmax=632, ymin=0, ymax=40, ytick={0,20,40}]
\addplot[black] coordinates {(335,6.7)(338,5.2)(342,7.8)(345,1.8)(348,7.8)(352,3.3)(357,4.3)(362,2.8)(367,5.3)(372,1.8)(377,4.3)(382,2.8)(387,4.8)(392,2.3)(397,4.8)(402,0.3)(405,6.8)(410,2.8)(415,5.3)(420,3.3)(425,5.3)(430,3.8)(435,5.8)(440,3.8)(445,6.3)(450,7.3)(455,8.8)(460,8.3)(465,8.3)(468,7.3)(473,8.3)(478,10.3)(482,7.3)(485,11.3)(488,5.3)(492,12.8)(494,6.3)(497,17.3)(500,5.3)(502,0.3)(504,14.8)(507,11.3)(509,6.3)(513,5.3)(517,6.3)(522,3.8)(527,7.8)(532,2.3)(537,5.3)(542,3.3)(547,2.3)(552,4.8)(557,2.8)(562,5.3)(567,1.8)(572,3.8)(577,5.3)(582,0.3)(585,6.3)(590,3.3)(595,5.3)(600,4.3)(605,5.8)(610,3.8)(615,6.3)(620,5.3)(628,7.3)};
\addplot[cpink] coordinates {(335,14.3)(337,13)(340,12.8)(342,14)(345,13.3)(347,12)(350,11.3)(352,12.5)(355,12.8)(357,11)(360,10.3)(362,12)(365,12.8)(367,11.5)(370,11.3)(373,10.5)(377,10.8)(380,11.5)(383,10.8)(386,11)(388,11.3)(390,9)(392,7.8)(394,9)(397,10.3)(399,9)(402,8.8)(404,9.5)(407,10.3)(409,9)(412,8.3)(414,9.5)(417,10.3)(419,8.5)(422,7.8)(425,9.8)(428,6.8)(430,9)(432,10.8)(434,9.5)(437,9.3)(439,10)(442,11.3)(445,8.8)(447,12)(448,14.8)(452,14.8)(453,23.8)(455,25)(457,26.8)(460,26.8)(463,23.8)(467,27.3)(470,29.8)(472,28.3)(475,29.8)(477,20.8)(481,27.3)(484,35.8)(487,33.3)(489,20.8)(493,32.3)(497,29.3)(501,20.8)(504,17.8)(507,9.8)(510,17.8)(513,14.8)(517,13.8)(519,14.5)(522,12.3)(524,13)(527,13.3)(529,12)(532,11.3)(534,12.5)(537,13.3)(539,11.5)(542,10.8)(545,11.5)(548,11.3)(551,10.5)(555,10.3)(557,11)(560,11.3)(563,10.5)(567,10.3)(570,7.8)(572,8.5)(575,9.3)(577,8.5)(580,7.8)(582,9)(585,9.8)(587,9)(590,8.3)(592,9)(595,10.3)(597,9)(600,7.3)(602,8.5)(605,10.3)(607,9.5)(610,9.3)(613,11.3)(616,10)(620,9.3)(623,8.8)(626,14.8)(628,14.8)};
\end{axis}
% ---------------- texts and decorations ----------------
\begin{scope}[x=1pt,y=-1pt, every node/.style={inner sep=0pt, font=\fs}]
\node[anchor=base west, font=\fl] at (-1,22) {Expiratory};
\node[anchor=base west, font=\fb] at (1,61) {A};
\node[anchor=base west, font=\fb] at (1,300) {B};
\node[anchor=base west, font=\fb] at (1,509) {C};
\node[anchor=base west, font=\fb] at (1,720) {D};
\node[anchor=base west, font=\fb] at (1,940) {E};
\node[anchor=base west, font=\fn] at (150,62.5) {\#28};
\node[anchor=base west, font=\fn] at (148,291.7) {\#34};
\node[anchor=base west, font=\fn] at (147,503) {\#39};
\node[anchor=base west, font=\fn] at (162,720) {\#44};
\node[anchor=base west, font=\fn] at (162,940) {\#46};
% row labels
\foreach \u/\r/\c/\p in {97/121/163/190, 330/360/398/433, 546.7/580/613/646.7, 766.7/800/833/868, 983/1017/1053/1077}{
  \node[anchor=base] at (42,\u) {Unit};
  \node[anchor=base, text=crawl] at (42,\r) {Raw};
  \node[anchor=base, text=cblue] at (42,\c) {cVN};
  \node[anchor=base, text=cpink] at (42,\p) {PN};
}
% scale bars
\begin{scope}[line width=1.2pt]
\draw (205,111)--(205,125); \node[anchor=base west] at (208,124) {100μV};
\draw (205,148)--(205,162); \node[anchor=base west] at (208,162) {6∫μV·s};
\draw (205,177)--(205,191); \node[anchor=base west] at (208,191) {10∫μV·s};
\draw (205,321)--(205,335); \node[anchor=base west] at (208,335) {200μV};
\draw (205,383)--(205,397); \node[anchor=base west] at (208,397) {6∫μV·s};
\draw (205,406)--(205,420); \node[anchor=base west] at (208,420) {10∫μV·s};
\draw (205,544)--(205,560); \node[anchor=base west] at (208,555) {200μV};
\draw (205,594)--(205,608); \node[anchor=base west] at (208,608) {10∫μV·s};
\draw (205,635)--(205,641); \node[anchor=base west] at (208,642) {10∫μV·s};
\draw (222,766)--(222,781); \node[anchor=base west] at (225,780) {800μV};
\draw (222,820)--(222,835); \node[anchor=base west] at (225,834) {6∫μV·s};
\draw (222,859)--(222,865); \node[anchor=base west] at (225,867) {10∫μV·s};
\draw (226,980)--(226,1003); \node[anchor=base west] at (229,999) {400μV};
\draw (226,1023)--(226,1048); \node[anchor=base west] at (229,1043) {5∫μV·s};
\draw (226,1058)--(226,1080); \node[anchor=base west] at (229,1080) {5∫μV·s};
\draw (157,206)--(197,206); \node[anchor=base] at (177,231.7) {2 sec};
\draw (143,438)--(193,438); \node[anchor=base] at (169,460) {2 sec};
\draw (163,653)--(198,653); \node[anchor=base] at (181,676.7) {2 sec};
\draw (180,874)--(213,874); \node[anchor=base] at (204,896.7) {2 sec};
\draw (175,1092)--(218,1092); \node[anchor=base] at (197,1112) {2 sec};
\end{scope}
% right titles
\node[anchor=base] at (461,49) {Inspiratory/Expiratory};
\node[anchor=base] at (461,75.5) {Phase-spanning};
\node[anchor=base] at (466,272) {Expiratory Decrementing};
\node[anchor=base] at (467,497) {Expiratory Plateau};
\node[anchor=base] at (483,706) {Tonic Respiratory Modulated \#1};
\node[anchor=base] at (484,927) {Tonic Respiratory Modulated \#2};
\node[anchor=base] at (298,76) {Hz};
\node[anchor=base] at (293,278) {Hz};
\node[anchor=base] at (295,502) {Hz};
\node[anchor=base] at (315,722) {Hz};
\node[anchor=base] at (313,942) {Hz};
\foreach \y/\a/\b/\c in {231/373/466/556, 442/373/462/555, 669/373/467/555, 890/385/480/578, 1113/388/482/582}{
  \node[anchor=base] at (\a,\y) {Expiration};
  \node[anchor=base] at (\b,\y) {Insp};
  \node[anchor=base] at (\c,\y) {Expiration};
}
% annotations
\node[anchor=base] at (396.5,117) {Peak @ IE};
\draw[line width=1.2pt, -{Latex[length=10pt,width=8pt]}] (433,122) -- (466,140);
\draw[line width=1.2pt, -{Latex[length=10pt,width=8pt]}] (498,305) -- (557,354);
\node[rotate=-39.7] at (533,319) {Dec};
\draw[line width=1.2pt, -{Latex[length=10pt,width=8pt]}] (507,532) -- (594,532);
\node[anchor=base] at (552,529) {Plat};
% legends
\foreach \y/\col/\lab in {42/black/24, 59.6/cdblue/25, 77.2/cteal/26, 94.8/cpurp/27, 112.4/clav/28, 130/clblue/29, 147.6/cdteal/30, 165.2/cpink/31, 182.8/cgray/32}{
  \draw[\col, line width=1.2pt] (599,\y)--(613,\y); \node[anchor=west] at (617,\y) {\#\lab};
}
\foreach \y/\col/\lab in {291/black/33, 308.5/cpink/34, 326/cteal/35, 343.5/cpurp/36, 361/clav/37}{
  \draw[\col, line width=1.2pt] (606,\y)--(617,\y); \node[anchor=west] at (618,\y) {\#\lab};
}
\foreach \y/\col/\lab in {453/black/38, 471/cpink/39, 489/cteal/40, 507/cpurp/41, 525/clav/42, 543/clblue/43}{
  \draw[\col, line width=1.2pt] (606,\y)--(617,\y); \node[anchor=west] at (618,\y) {\#\lab};
}
\foreach \y/\col/\lab in {743/black/44, 760/cpink/45}{
  \draw[\col, line width=1.2pt] (600,\y)--(613,\y); \node[anchor=west] at (617,\y) {\#\lab};
}
\foreach \y/\col/\lab in {972/black/46, 989/cpink/47}{
  \draw[\col, line width=1.2pt] (600,\y)--(613,\y); \node[anchor=west] at (617,\y) {\#\lab};
}
\end{scope}
\end{tikzpicture}
\end{document}
